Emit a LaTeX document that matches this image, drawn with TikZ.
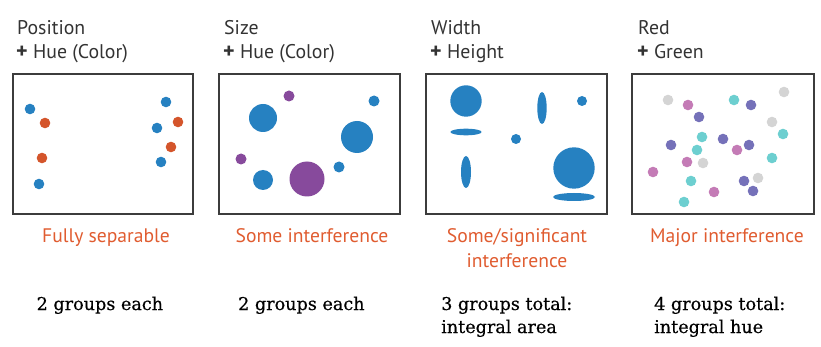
\documentclass[tikz,border=0pt]{standalone}
\usepackage{fontspec}
\setmainfont{PT Sans}
\newfontfamily\slabfont[FakeBold=0.5]{DejaVu Serif}
\definecolor{titlegray}{HTML}{333333}
\definecolor{framegray}{HTML}{3C3C3C}
\definecolor{labelorange}{HTML}{E05C30}
\definecolor{dotblue}{HTML}{2681C1}
\definecolor{dotorange}{HTML}{D4552B}
\definecolor{dotpurple}{HTML}{874A9C}
\definecolor{rgGray}{HTML}{D4D4D4}
\definecolor{rgPink}{HTML}{C47BB6}
\definecolor{rgViolet}{HTML}{7571B9}
\definecolor{rgCyan}{HTML}{6DCFD0}
\tikzset{
  panelframe/.style={draw=framegray, line width=1.2pt, fill=white},
  titletext/.style={anchor=base west, inner sep=0pt, text=titlegray,
    font=\fontsize{19.8}{24}\selectfont},
  verdict/.style={anchor=base, inner sep=0pt, text=labelorange,
    font=\fontsize{19.6}{24}\selectfont},
  groupnote/.style={anchor=base west, inner sep=0pt, text=black,
    font=\slabfont\fontsize{17.6}{21}\selectfont},
}
\newcommand{\plusmark}{{\bfseries\fontsize{22}{24}\selectfont +}}
\newcommand{\markdot}[3]{\fill[#1] (#2,#3) circle [radius=5.3pt];}
\begin{document}
\begin{tikzpicture}[x=1pt,y=-1pt]
\useasboundingbox (0,0) rectangle (821,347);

% ---------- frames ----------
\draw[panelframe] (13,74) rectangle (193,214);
\draw[panelframe] (219,74) rectangle (400,214);
\draw[panelframe] (426,74) rectangle (607,214);
\draw[panelframe] (632,74) rectangle (814,214);

% ---------- titles ----------
\node[titletext] (t1a) at (17,35) {Position};
\node[titletext] (t1b) at (16,59) {\plusmark\ Hue (Color)};
\node[titletext] (t2a) at (224,35) {Size};
\node[titletext] (t2b) at (223,59) {\plusmark\ Hue (Color)};
\node[titletext] (t3a) at (431,35) {Width};
\node[titletext] (t3b) at (430,59) {\plusmark\ Height};
\node[titletext] (t4a) at (638,35) {Red};
\node[titletext] (t4b) at (637,59) {\plusmark\ Green};

% ---------- position + hue ----------
\markdot{dotblue}{30}{109}
\markdot{dotorange}{45}{123}
\markdot{dotorange}{42}{158}
\markdot{dotblue}{39}{184}
\markdot{dotblue}{166}{102}
\markdot{dotorange}{178}{122}
\markdot{dotblue}{157}{128}
\markdot{dotorange}{171}{147}
\markdot{dotblue}{161}{162}

% ---------- size + hue ----------
\fill[dotpurple] (289,96) circle [radius=5.5pt];
\fill[dotblue] (263,118) circle [radius=14pt];
\fill[dotblue] (374,101) circle [radius=5.5pt];
\fill[dotblue] (357,137) circle [radius=16pt];
\fill[dotpurple] (241,159) circle [radius=5.5pt];
\fill[dotblue] (263,180) circle [radius=10pt];
\fill[dotpurple] (307,179) circle [radius=17.5pt];
\fill[dotblue] (339,167) circle [radius=5.5pt];

% ---------- width + height ----------
\fill[dotblue] (466,101) circle [radius=15.7pt];
\fill[dotblue] (466,132) ellipse [x radius=15.7pt, y radius=3.3pt];
\fill[dotblue] (542,108) ellipse [x radius=4.7pt, y radius=16pt];
\fill[dotblue] (582,101) circle [radius=5pt];
\fill[dotblue] (516,139) circle [radius=5pt];
\fill[dotblue] (466,172) ellipse [x radius=5pt, y radius=16pt];
\fill[dotblue] (574,168) circle [radius=20.7pt];
\fill[dotblue] (574,197) ellipse [x radius=21pt, y radius=4pt];

% ---------- red + green ----------
\markdot{rgGray}{668}{100}
\markdot{rgPink}{688}{105}
\markdot{rgCyan}{734}{100}
\markdot{rgViolet}{751}{105}
\markdot{rgGray}{784}{92}
\markdot{rgViolet}{699}{117}
\markdot{rgGray}{772}{122}
\markdot{rgCyan}{783}{134}
\markdot{rgCyan}{702}{137}
\markdot{rgViolet}{723}{139}
\markdot{rgViolet}{671}{145}
\markdot{rgCyan}{697}{150}
\markdot{rgPink}{737}{150}
\markdot{rgViolet}{749}{145}
\markdot{rgCyan}{772}{158}
\markdot{rgPink}{687}{162}
\markdot{rgGray}{703}{163}
\markdot{rgPink}{653}{172}
\markdot{rgCyan}{691}{181}
\markdot{rgViolet}{744}{181}
\markdot{rgGray}{758}{178}
\markdot{rgPink}{714}{192}
\markdot{rgViolet}{753}{191}
\markdot{rgCyan}{684}{202}

% ---------- verdicts ----------
\node[verdict] (v1) at (106,243) {Fully separable};
\node[verdict] (v2) at (312,243) {Some interference};
\node[verdict] (v3a) at (517,243) {Some/significant};
\node[verdict] (v3b) at (517,267) {interference};
\node[verdict] (v4) at (727,243) {Major interference};

% ---------- group notes ----------
\node[groupnote] (g1) at (36.5,310) {2 groups each};
\node[groupnote] (g2) at (238,310) {2 groups each};
\node[groupnote] (g3a) at (441,310) {3 groups total:};
\node[groupnote] (g3b) at (441,333) {integral area};
\node[groupnote] (g4a) at (654,310) {4 groups total:};
\node[groupnote] (g4b) at (654,333) {integral hue};
\end{tikzpicture}
\end{document}
